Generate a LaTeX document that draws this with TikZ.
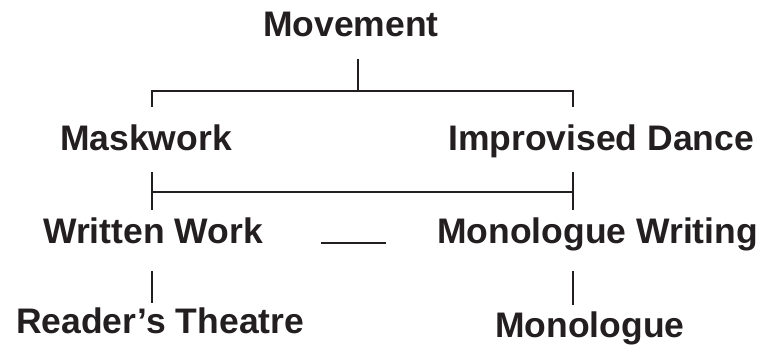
\documentclass[tikz,border=0pt]{standalone}
\usepackage{fontspec}
\setmainfont{Liberation Sans}
\usepackage{tikz}

\definecolor{ink}{RGB}{35,31,32}
\tikzset{
  label/.style={anchor=base west, inner sep=0pt, text=ink, font=\bfseries\fontsize{35.5}{40}\selectfont},
  link/.style={draw=ink, line width=1.6pt}
}

\begin{document}
\begin{tikzpicture}[x=1pt,y=1pt,yscale=-1,xscale=1]
\useasboundingbox (0,0) rectangle (764,345);

% Text Node
\node [label] (mov) at (263,37) {Movement};
% Text Node
\node [label] (mask) at (60,150) {Maskwork};
% Text Node
\node [label] (impdance) at (448,150) {Improvised Dance};
% Text Node
\node [label] (written) at (43,243) {Written Work};
% Text Node
\node [label] (monowriting) at (437,243) {Monologue Writing};
% Text Node
\node [label] (readers) at (16,333) {Reader’s Theatre};
% Text Node
\node [label] (mono) at (495,337) {Monologue};

% bracket points
\coordinate (movtop) at (358,59);
\coordinate (movjoin) at (358,91);
\coordinate (maskup) at (152,107);
\coordinate (danceup) at (573,107);
\coordinate (maskdown) at (152,172);
\coordinate (dancedown) at (573,172);
\coordinate (writtenup) at (152,210);
\coordinate (monowup) at (573,210);
\coordinate (midleft) at (152,192);
\coordinate (midright) at (573,192);
\coordinate (writtendown) at (152,271);
\coordinate (readersup) at (152,303);
\coordinate (monowdown) at (573,271);
\coordinate (monoup) at (573,305);
\coordinate (dashleft) at (321,243);
\coordinate (dashright) at (386,243);

%Straight Lines
\draw [link] (movtop) -- (movjoin);
\draw [link] (maskup) |- (movjoin) -| (danceup);
%Straight Lines
\draw [link] (maskdown) -- (writtenup);
\draw [link] (dancedown) -- (monowup);
\draw [link] (midleft) -- (midright);
%Straight Lines
\draw [link] (writtendown) -- (readersup);
\draw [link] (monowdown) -- (monoup);
\draw [link] (dashleft) -- (dashright);

\end{tikzpicture}
\end{document}
